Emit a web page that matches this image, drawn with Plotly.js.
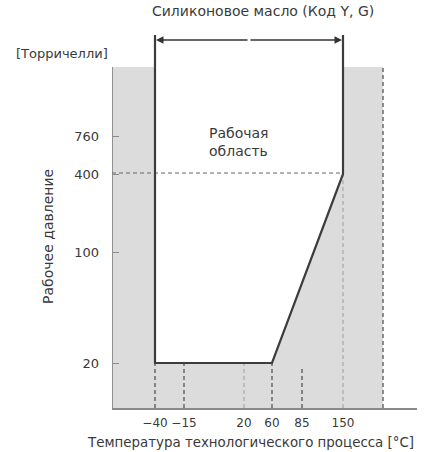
<!DOCTYPE html>
<html>
<head>
<meta charset="utf-8">
<script src="https://cdn.plot.ly/plotly-3.0.1.min.js"></script>
<style>html,body{margin:0;padding:0;background:#fff;}#chart{width:428px;height:452px;}</style>
</head>
<body>
<div id="chart"></div>
<script>
// Temperature ticks (°C) and their schematic positions on the (non-linear) x scale
const tempLabels = ['−40', '−15', '20', '60', '85', '150'];
const tempPos = [43, 72, 132, 160, 190, 231];
// Pressure ticks (Torr) and their schematic positions on the (non-linear) y scale
const pressLabels = ['20', '100', '400', '760'];
const pressPos = [45, 156, 234, 272];
// Schematic limits: right edge of grey band, top of grey band, top of region bracket lines
const greyRight = 271;
const greyTop = 341;
const bracketTop = 373;
const bracketArrow = 368;

const L = tempPos[0];   // -40 °C
const M = tempPos[3];   // 60 °C
const R = tempPos[5];   // 150 °C
const B = pressPos[0];  // 20 Torr
const K = pressPos[2];  // 400 Torr

const FONT = 'DejaVu Sans, Liberation Sans, Arial, sans-serif';
const TXT = '#3a3a3a';

const traces = [
  { // grey band
    x: [0, greyRight, greyRight, 0, 0], y: [0, 0, greyTop, greyTop, 0],
    mode: 'lines', fill: 'toself', fillcolor: '#dcdcdc', line: {width: 0}, hoverinfo: 'skip'
  },
  { // working region (white)
    x: [L, L, R, R, M, L], y: [B, greyTop, greyTop, K, B, B],
    mode: 'lines', fill: 'toself', fillcolor: '#ffffff', line: {width: 0}, hoverinfo: 'skip'
  },
  { // dashed verticals in grey (dark)
    x: [L, L, null, tempPos[1], tempPos[1], null, M, M, null, tempPos[4], tempPos[4], null, greyRight, greyRight],
    y: [0, B, null, 0, B, null, 0, B, null, 0, B - 4, null, 0, greyTop],
    mode: 'lines', line: {color: '#555', width: 1.3, dash: '4px,3px'}, hoverinfo: 'skip'
  },
  { // faint dashed verticals
    x: [tempPos[2], tempPos[2], null, R, R], y: [0, B, null, 0, K],
    mode: 'lines', line: {color: '#a8a8a8', width: 1.2, dash: '4px,3px'}, hoverinfo: 'skip'
  },
  { // 400 Torr dashed horizontal
    x: [0, R], y: [K + 1, K + 1],
    mode: 'lines', line: {color: '#666', width: 1.2, dash: '4px,3px'}, hoverinfo: 'skip'
  },
  { // y axis line over grey band
    x: [0, 0], y: [0, greyTop],
    mode: 'lines', line: {color: '#7a7a7a', width: 1.5}, hoverinfo: 'skip'
  },
  { // region border
    x: [R, R, M, L, L], y: [bracketTop, K, B, B, bracketTop],
    mode: 'lines', line: {color: '#3c3c3c', width: 2.2}, hoverinfo: 'skip'
  }
];

const layout = {
  width: 428, height: 452,
  margin: {l: 112, r: 11, t: 20, b: 44},
  paper_bgcolor: '#fff', plot_bgcolor: '#fff',
  showlegend: false,
  font: {family: FONT, size: 13, color: TXT},
  xaxis: {
    range: [0, 305], showgrid: false, zeroline: false,
    showline: true, linecolor: '#8a8a8a', linewidth: 1.5,
    tickmode: 'array', tickvals: tempPos, ticktext: tempLabels, tickangle: 0,
    ticks: '', ticklabelstandoff: 3, tickfont: {size: 12, color: TXT}, fixedrange: true
  },
  yaxis: {
    range: [0, 388], showgrid: false, zeroline: false, showline: false,
    tickmode: 'array', tickvals: pressPos, ticktext: pressLabels,
    ticks: 'inside', ticklen: 7, tickcolor: '#8a8a8a', tickwidth: 1,
    ticklabelstandoff: 12, tickfont: {size: 13, color: TXT}, fixedrange: true
  },
  annotations: [
    {text: 'Силиконовое масло (Код Y, G)', xref: 'x', yref: 'paper', x: 151, y: 1, yshift: -1,
     xanchor: 'center', yanchor: 'bottom', showarrow: false, font: {size: 14, color: TXT}},
    {text: '[Торричелли]', xref: 'paper', yref: 'y', x: -0.164, y: 355, xanchor: 'center', yanchor: 'middle',
     showarrow: false, font: {size: 13, color: TXT}},
    {text: 'Рабочее давление', xref: 'paper', yref: 'y', x: -0.21, y: 172, textangle: -90,
     xanchor: 'center', yanchor: 'middle', showarrow: false, font: {size: 14, color: TXT}},
    {text: 'Температура технологического процесса [°C]', xref: 'paper', yref: 'paper',
     x: -0.087, y: 0, yshift: -34, xanchor: 'left', yanchor: 'middle', showarrow: false,
     font: {size: 13.4, color: TXT}},
    {text: 'Рабочая<br>область', xref: 'x', yref: 'y', x: 95, y: 266, xanchor: 'left', yanchor: 'middle',
     align: 'left', showarrow: false, font: {size: 14, color: TXT}},
    {x: L + 1, y: bracketArrow, ax: (L + R) / 2, ay: bracketArrow, xref: 'x', yref: 'y', axref: 'x', ayref: 'y',
     text: '', showarrow: true, arrowhead: 2, arrowsize: 1, arrowwidth: 1.5, arrowcolor: '#333'},
    {x: R - 1, y: bracketArrow, ax: (L + R) / 2, ay: bracketArrow, xref: 'x', yref: 'y', axref: 'x', ayref: 'y',
     text: '', showarrow: true, arrowhead: 2, arrowsize: 1, arrowwidth: 1.5, arrowcolor: '#333'}
  ]
};

Plotly.newPlot('chart', traces, layout, {displayModeBar: false, staticPlot: true});
</script>
</body>
</html>
